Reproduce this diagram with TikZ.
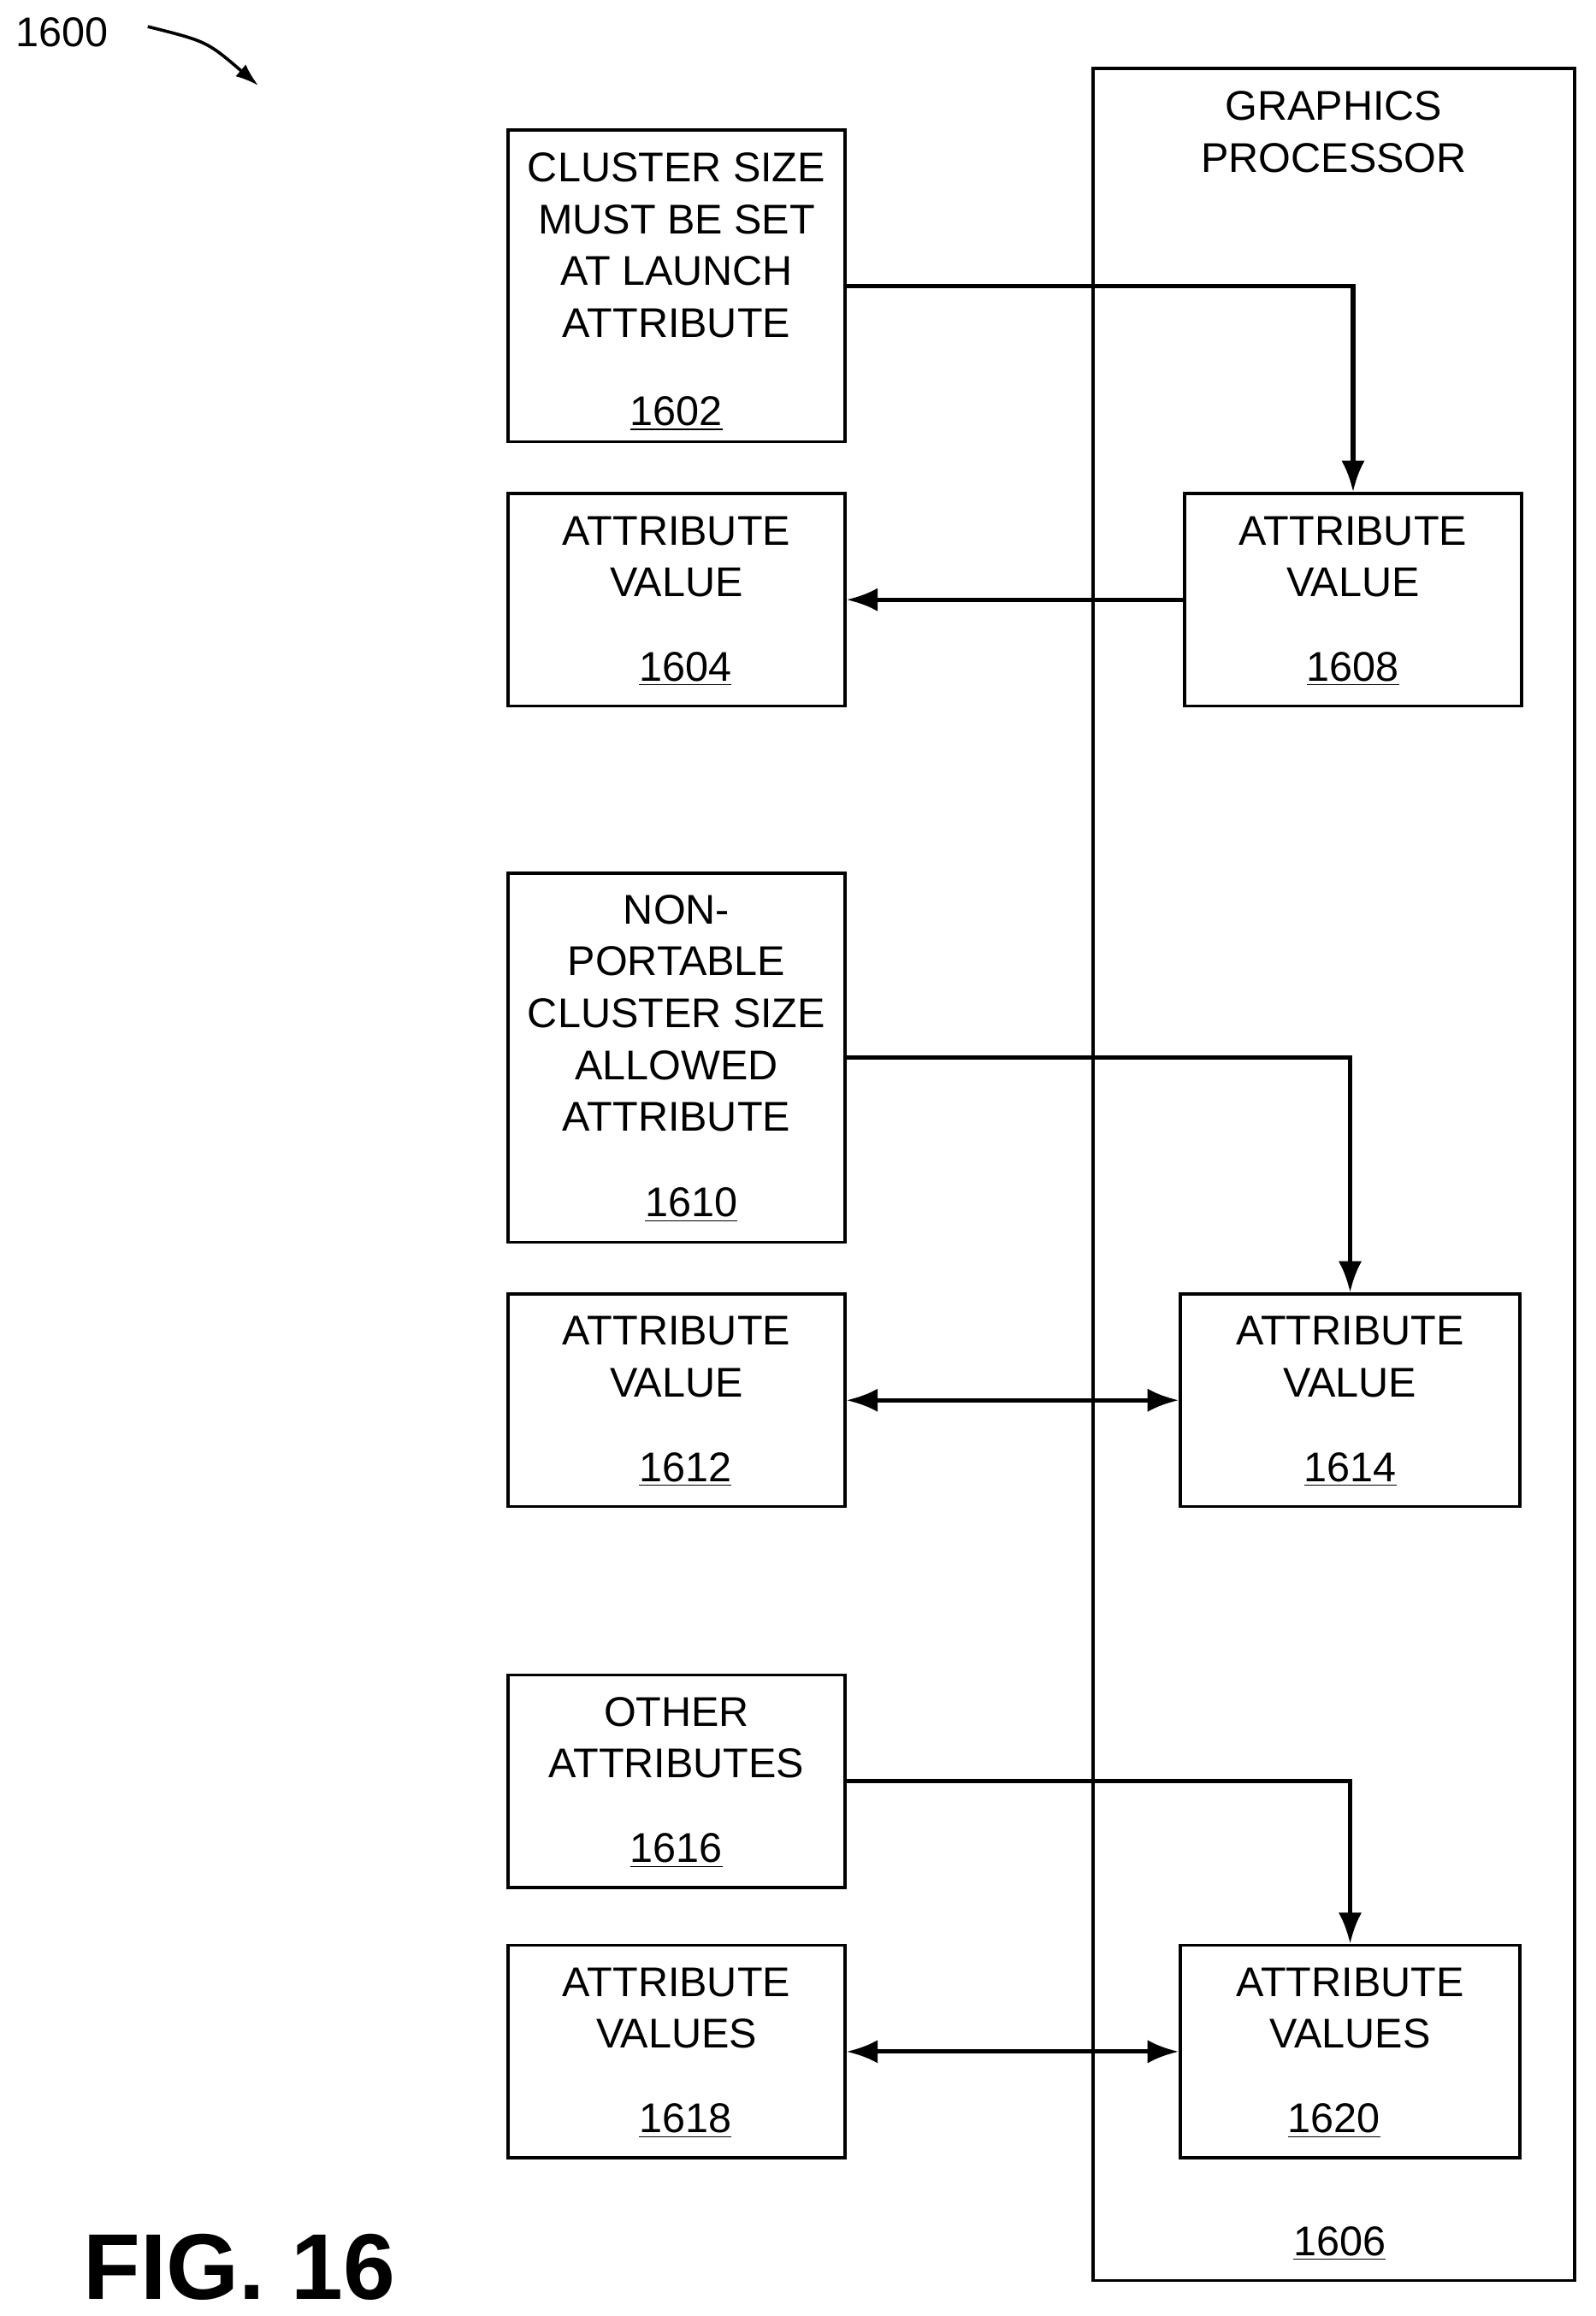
\documentclass[tikz,border=0pt]{standalone}
\usepackage{fontspec}
\setmainfont{Liberation Sans}
\usetikzlibrary{arrows.meta}
\tikzset{
	box/.style={draw, line width=1.2pt, minimum width=4.56cm, inner sep=0pt},
	txt/.style={align=center, font=\fontsize{16}{20}\selectfont},
	conn/.style={line width=1.7pt, -{Latex[length=12pt,width=9pt]}},
	both/.style={line width=1.7pt, {Latex[length=12pt,width=9pt]}-{Latex[length=12pt,width=9pt]}}
}
\begin{document}
\begin{tikzpicture}[x=0.02cm,y=-0.02cm]
	\useasboundingbox (0,0) rectangle (1080,1568);
	\node[box, minimum width=6.52cm, minimum height=29.96cm] (n1606) at (903,795) {};
	\node[txt] (t1606) at (903,89.5) {GRAPHICS\\PROCESSOR};
	\node[txt] (l1606) at (907,1519) {\underline{1606}};
	\node[box, minimum height=4.22cm] (n1602) at (458,193.5) {};
	\node[txt] (t1602) at (458,166) {CLUSTER SIZE\\MUST BE SET\\AT LAUNCH\\ATTRIBUTE};
	\node[txt] (l1602) at (458,280) {\underline{1602}};
	\node[box, minimum height=2.88cm] (n1604) at (458,406) {};
	\node[txt] (t1604) at (458,377) {ATTRIBUTE\\VALUE};
	\node[txt] (l1604) at (464,453) {\underline{1604}};
	\node[box, minimum height=2.88cm] (n1608) at (916,406) {};
	\node[txt] (t1608) at (916,377) {ATTRIBUTE\\VALUE};
	\node[txt] (l1608) at (916,453) {\underline{1608}};
	\node[box, minimum height=5cm] (n1610) at (458,716) {};
	\node[txt] (t1610) at (458,686) {NON-\\PORTABLE\\CLUSTER SIZE\\ALLOWED\\ATTRIBUTE};
	\node[txt] (l1610) at (468,816) {\underline{1610}};
	\node[box, minimum height=2.88cm] (n1612) at (458,948) {};
	\node[txt] (t1612) at (458,918.5) {ATTRIBUTE\\VALUE};
	\node[txt] (l1612) at (464,995) {\underline{1612}};
	\node[box, minimum width=4.6cm, minimum height=2.88cm] (n1614) at (914,948) {};
	\node[txt] (t1614) at (914,918.5) {ATTRIBUTE\\VALUE};
	\node[txt] (l1614) at (914,995) {\underline{1614}};
	\node[box, minimum height=2.88cm] (n1616) at (458,1206) {};
	\node[txt] (t1616) at (458,1176.5) {OTHER\\ATTRIBUTES};
	\node[txt] (l1616) at (458,1253) {\underline{1616}};
	\node[box, minimum height=2.88cm] (n1618) at (458,1389) {};
	\node[txt] (t1618) at (458,1359.5) {ATTRIBUTE\\VALUES};
	\node[txt] (l1618) at (464,1436) {\underline{1618}};
	\node[box, minimum width=4.6cm, minimum height=2.88cm] (n1620) at (914,1389) {};
	\node[txt] (t1620) at (914,1359.5) {ATTRIBUTE\\VALUES};
	\node[txt] (l1620) at (903,1436) {\underline{1620}};
	% connectors
	\draw[conn] (n1602.east) -| (n1608.north);
	\draw[conn] (n1608.west) -- (n1604.east);
	\draw[conn] (n1610.east) -| (n1614.north);
	\draw[both] (n1612.east) -- (n1614.west);
	\draw[conn] (n1616.east) -| (n1620.north);
	\draw[both] (n1618.east) -- (n1620.west);
	% figure labels
	\node[txt] (fig) at (42,22) {1600};
	\coordinate (a0) at (100,18);
	\coordinate (a1) at (175,58);
	\draw[line width=1.2pt, -{Latex[length=9pt,width=6pt]}] (a0) .. controls (140,28) .. (a1);
	\node[font=\fontsize{36}{40}\selectfont\bfseries] (f16) at (162,1535) {FIG. 16};
\end{tikzpicture}
\end{document}
